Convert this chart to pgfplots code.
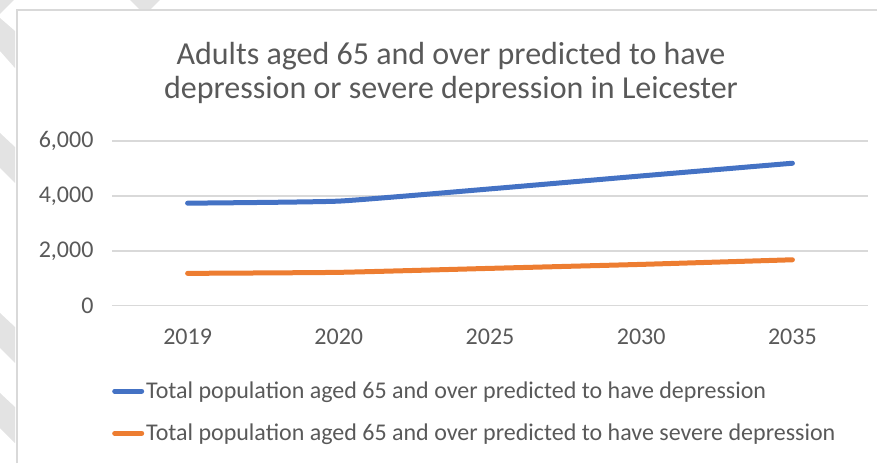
\documentclass[border=0pt]{standalone}
\usepackage{fontspec}
\setmainfont{Carlito}
\usepackage{pgfplots}
\pgfplotsset{compat=1.18}
\definecolor{txt}{HTML}{595959}
\definecolor{gridc}{HTML}{D9D9D9}
\definecolor{sblue}{HTML}{4472C4}
\definecolor{sorange}{HTML}{ED7D31}
\definecolor{wm}{HTML}{E3E3E3}
\begin{document}
\begin{tikzpicture}[x=1pt,y=1pt]
\path[use as bounding box] (0,0) rectangle (877,463);
% decorative watermark shapes at left
\fill[wm] (0,463) -- (14,463) -- (0,449) -- cycle;
\fill[wm] (0,445) -- (15,432) -- (15,395) -- (0,412) -- cycle;
\fill[wm] (0,330) -- (15,316) -- (15,280) -- (0,295) -- cycle;
\fill[wm] (0,150) -- (15,136) -- (15,100) -- (0,115) -- cycle;
\fill[wm] (0,70) -- (15,56) -- (15,20) -- (0,35) -- cycle;
\fill[wm] (130,463) -- (160,463) -- (150,453) -- (140,453) -- cycle;
% chart frame
\draw[gridc, line width=1.5pt] (17,0) -- (17,453) -- (877,453);
% title
\node[align=center, text=txt, font=\fontsize{32}{35}\selectfont, anchor=base] at (451,398) {Adults aged 65 and over predicted to have};
\node[align=center, text=txt, font=\fontsize{32}{35}\selectfont, anchor=base] at (451,364) {depression or severe depression in Leicester};
\begin{axis}[
  at={(112pt,157.3pt)}, anchor=south west,
  width=756pt, height=164.7pt, scale only axis,
  xmin=-0.5, xmax=4.5, ymin=0, ymax=6000,
  xtick={0,1,2,3,4}, xticklabels={2019,2020,2025,2030,2035},
  ytick={0,2000,4000,6000},
  ymajorgrids, major grid style={gridc, line width=1.5pt},
  axis line style={draw=none}, tick style={draw=none},
  /pgf/number format/.cd, 1000 sep={,}, assume math mode=true,
  /pgfplots/.cd,
  ticklabel style={text=txt, font=\fontsize{24}{28}\selectfont},
  yticklabel style={xshift=-15pt},
  xticklabel style={yshift=-20pt},
  legend style={at={(0,-0.45)}, anchor=north west, draw=none, fill=none,
    inner sep=0pt, row sep=20pt, text=txt, font=\fontsize{24}{28}\selectfont,
    /tikz/every even column/.append style={column sep=0pt}},
  legend cell align=left,
  legend image code/.code={\draw[#1, line width=5pt, line cap=round] (0pt,0pt) -- (27pt,0pt);},
]
\addplot[sblue, line width=5pt, line cap=round, smooth, tension=0.25] coordinates {(0,3735) (1,3810) (2,4255) (3,4727) (4,5190)};
\addlegendentry{Total population aged 65 and over predicted to have depression}
\addplot[sorange, line width=5pt, line cap=round, smooth, tension=0.25] coordinates {(0,1178) (1,1215) (2,1360) (3,1505) (4,1673)};
\addlegendentry{Total population aged 65 and over predicted to have severe depression}
\end{axis}
\end{tikzpicture}
\end{document}
